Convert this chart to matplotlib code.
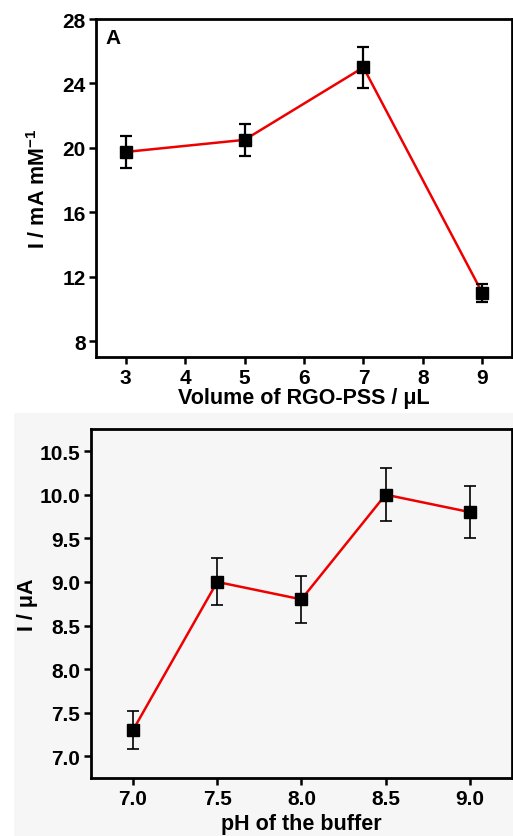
import matplotlib.pyplot as plt
from matplotlib.patches import Rectangle

plt.rcParams['font.family'] = ['Liberation Sans', 'DejaVu Sans']
plt.rcParams['font.weight'] = 'bold'
plt.rcParams['mathtext.fontset'] = 'custom'
plt.rcParams['mathtext.rm'] = 'Liberation Sans:bold'
plt.rcParams['mathtext.bf'] = 'Liberation Sans:bold'
plt.rcParams['mathtext.default'] = 'rm'

# panel A: volume of RGO-PSS
vol = [3, 5, 7, 9]
vol_i = [19.75, 20.5, 25.0, 11.0]
vol_err = [1.0, 1.0, 1.25, 0.55]

# panel B: pH of buffer
ph = [7.0, 7.5, 8.0, 8.5, 9.0]
ph_i = [7.3, 9.0, 8.8, 10.0, 9.8]
ph_err = [0.22, 0.27, 0.27, 0.3, 0.3]

fig = plt.figure(figsize=(5.13, 8.37), dpi=100)
bg = Rectangle((0.027, 0.0), 0.973, 0.505, transform=fig.transFigure,
               facecolor='#f6f6f6', edgecolor='none', zorder=-10)
fig.add_artist(bg)

ax1 = fig.add_axes([0.187, 0.572, 0.811, 0.404])
ax2 = fig.add_axes([0.177, 0.069, 0.821, 0.417])
ax2.set_facecolor('#f6f6f6')


def style(ax):
    for s in ax.spines.values():
        s.set_linewidth(2)
    ax.tick_params(direction='out', length=5, width=1.8, labelsize=15, pad=2.5)
    for lab in ax.get_xticklabels() + ax.get_yticklabels():
        lab.set_fontweight('bold')


ax1.plot(vol, vol_i, color='#ee0000', lw=1.8, zorder=2)
ax1.errorbar(vol, vol_i, yerr=vol_err, fmt='s', color='black', ms=8.5,
             ecolor='black', elinewidth=1.6, capsize=4, capthick=1.6, zorder=3)
ax1.set_xlim(2.5, 9.5)
ax1.set_ylim(7, 28)
ax1.set_xticks([3, 4, 5, 6, 7, 8, 9])
ax1.set_yticks([8, 12, 16, 20, 24, 28])
ax1.set_xlabel('Volume of RGO-PSS / μL', fontsize=15.5, fontweight='bold', labelpad=0)
ax1.set_ylabel('I / mA mM$^{-1}$', fontsize=15.5, fontweight='bold', labelpad=9)
ax1.text(0.022, 0.975, 'A', transform=ax1.transAxes, fontsize=15, fontweight='bold',
         va='top', ha='left')
style(ax1)

ax2.plot(ph, ph_i, color='#ee0000', lw=1.8, zorder=2)
ax2.errorbar(ph, ph_i, yerr=ph_err, fmt='s', color='black', ms=8.5,
             ecolor='black', elinewidth=1.2, capsize=4, capthick=1.2, zorder=3)
ax2.set_xlim(6.75, 9.25)
ax2.set_ylim(6.75, 10.75)
ax2.set_xticks([7.0, 7.5, 8.0, 8.5, 9.0])
ax2.set_yticks([7.0, 7.5, 8.0, 8.5, 9.0, 9.5, 10.0, 10.5])
ax2.set_xticklabels(['7.0', '7.5', '8.0', '8.5', '9.0'])
ax2.set_yticklabels(['7.0', '7.5', '8.0', '8.5', '9.0', '9.5', '10.0', '10.5'])
ax2.set_xlabel('pH of the buffer', fontsize=15.5, fontweight='bold', labelpad=4)
ax2.set_ylabel('I / μA', fontsize=15.5, fontweight='bold', labelpad=1)
style(ax2)

fig.savefig('out.png', dpi=100)
